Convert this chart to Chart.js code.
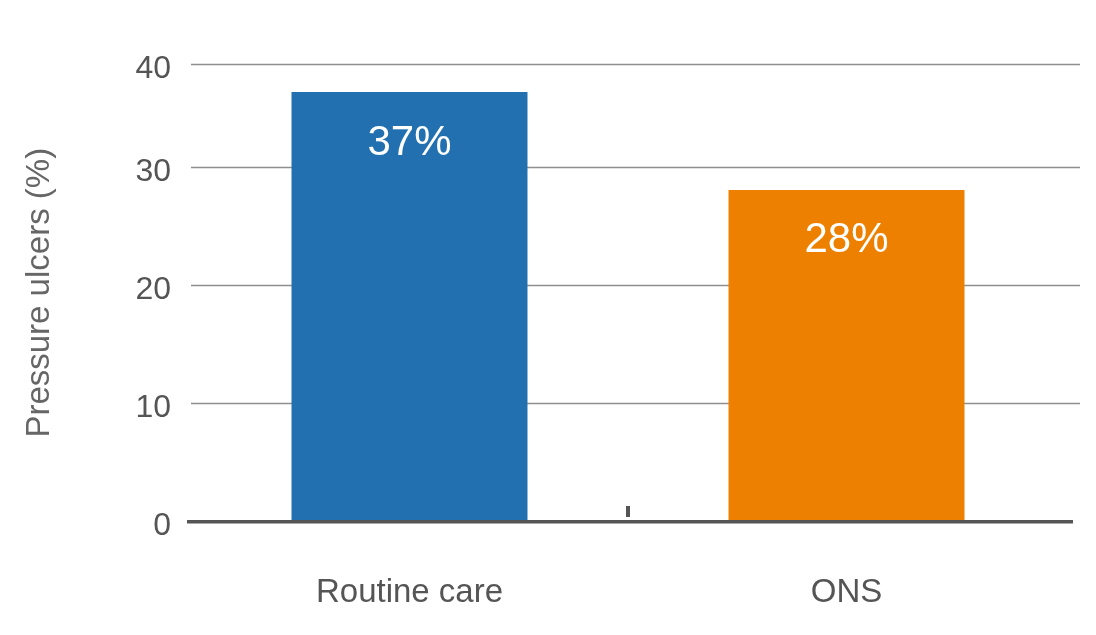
<!DOCTYPE html>
<html>
<head>
<meta charset="utf-8">
<script src="https://cdn.jsdelivr.net/npm/chart.js@4.4.1/dist/chart.umd.min.js"></script>
<style>
html,body{margin:0;padding:0;background:#ffffff;}
#wrap{width:1096px;height:635px;position:relative;}
</style>
</head>
<body>
<div id="wrap"><canvas id="c" width="1096" height="635"></canvas></div>
<script>
// ---- data ----
const categories = ['Routine care', 'ONS'];
const values = [37.3, 28.1];
const valueLabels = ['37%', '28%'];
const barColors = ['#2270b0', '#ee8000'];
const yTickValues = [0, 10, 20, 30, 40];
const yTitle = 'Pressure ulcers (%)';

// ---- axis: the reference's top band (30-40) is slightly compressed ----
const yAxisSegmentStep = 10;
const yAxisSegmentWeights = [1, 1, 1, 0.877];

const Linear = Chart.LinearScale || Chart.registry.getScale('linear');
class SegmentedScale extends Linear {
  _cum() {
    const cum = [0];
    for (const w of yAxisSegmentWeights) cum.push(cum[cum.length - 1] + w);
    return cum;
  }
  getPixelForValue(value) {
    if (value === null || value === undefined || isNaN(value)) return NaN;
    const cum = this._cum();
    const total = cum[cum.length - 1];
    const rel = value - this.min;
    let i = Math.floor(rel / yAxisSegmentStep);
    i = Math.max(0, Math.min(yAxisSegmentWeights.length - 1, i));
    const acc = cum[i] + (rel - i * yAxisSegmentStep) / yAxisSegmentStep * yAxisSegmentWeights[i];
    return this.getPixelForDecimal(acc / total);
  }
  getValueForPixel(pixel) {
    const cum = this._cum();
    const total = cum[cum.length - 1];
    const d = this.getDecimalForPixel(pixel) * total;
    let i = 0;
    while (i < yAxisSegmentWeights.length - 1 && d > cum[i + 1]) i++;
    return this.min + i * yAxisSegmentStep + (d - cum[i]) / yAxisSegmentWeights[i] * yAxisSegmentStep;
  }
}
SegmentedScale.id = 'segmented';
SegmentedScale.defaults = {};
Chart.register(SegmentedScale);

const FONT = '"Liberation Sans", Arial, Helvetica, sans-serif';

const decorPlugin = {
  id: 'decor',
  beforeDatasetsDraw(chart) {
    const {ctx, chartArea, scales: {y}} = chart;
    ctx.save();
    ctx.strokeStyle = '#8e8e8e';
    ctx.lineWidth = 1.3;
    y.ticks.forEach(t => {
      if (t.value === 0) return;
      const py = Math.round(y.getPixelForValue(t.value)) + 0.5;
      ctx.beginPath();
      ctx.moveTo(chartArea.left, py);
      ctx.lineTo(chartArea.right + 15, py);
      ctx.stroke();
    });
    ctx.restore();
  },
  afterDatasetsDraw(chart) {
    const {ctx, chartArea, scales: {x, y}} = chart;
    ctx.save();
    const py0 = y.getPixelForValue(0);
    ctx.fillStyle = '#555555';
    ctx.fillRect(chartArea.left - 4, py0 - 1.5, (chartArea.right + 8) - (chartArea.left - 4), 3.5);
    const xm = (x.getPixelForValue(0) + x.getPixelForValue(1)) / 2;
    ctx.fillRect(xm - 2, py0 - 15.5, 4, 11);
    const meta = chart.getDatasetMeta(0);
    ctx.fillStyle = '#ffffff';
    ctx.font = '42px ' + FONT;
    ctx.textAlign = 'center';
    ctx.textBaseline = 'middle';
    meta.data.forEach((bar, i) => {
      ctx.fillText(valueLabels[i], bar.x, bar.y + 51);
    });
    ctx.restore();
  }
};

new Chart(document.getElementById('c'), {
  type: 'bar',
  data: {
    labels: categories,
    datasets: [{
      data: values,
      backgroundColor: barColors,
      borderWidth: 0,
      categoryPercentage: 1.0,
      barPercentage: 0.54
    }]
  },
  options: {
    responsive: false,
    animation: false,
    devicePixelRatio: 1,
    layout: {padding: {top: 64, right: 31, bottom: 0, left: 0}},
    plugins: {legend: {display: false}, tooltip: {enabled: false}},
    scales: {
      x: {
        grid: {display: false, drawTicks: false},
        border: {display: false},
        ticks: {font: {size: 33, family: FONT}, color: '#555555', padding: 52},
        afterFit(s) { s.height = 113.5; }
      },
      y: {
        type: 'segmented',
        min: 0,
        max: 40,
        afterBuildTicks(s) { s.ticks = yTickValues.map(v => ({value: v})); },
        grid: {display: false, drawTicks: false},
        border: {display: false},
        ticks: {font: {size: 32, family: FONT}, color: '#555555', padding: 20, labelOffset: 5},
        title: {display: true, text: yTitle, font: {size: 33, family: FONT}, color: '#666666', padding: {top: 20, bottom: 0}},
        afterFit(s) { s.width = 191; }
      }
    }
  },
  plugins: [decorPlugin]
});
</script>
</body>
</html>
